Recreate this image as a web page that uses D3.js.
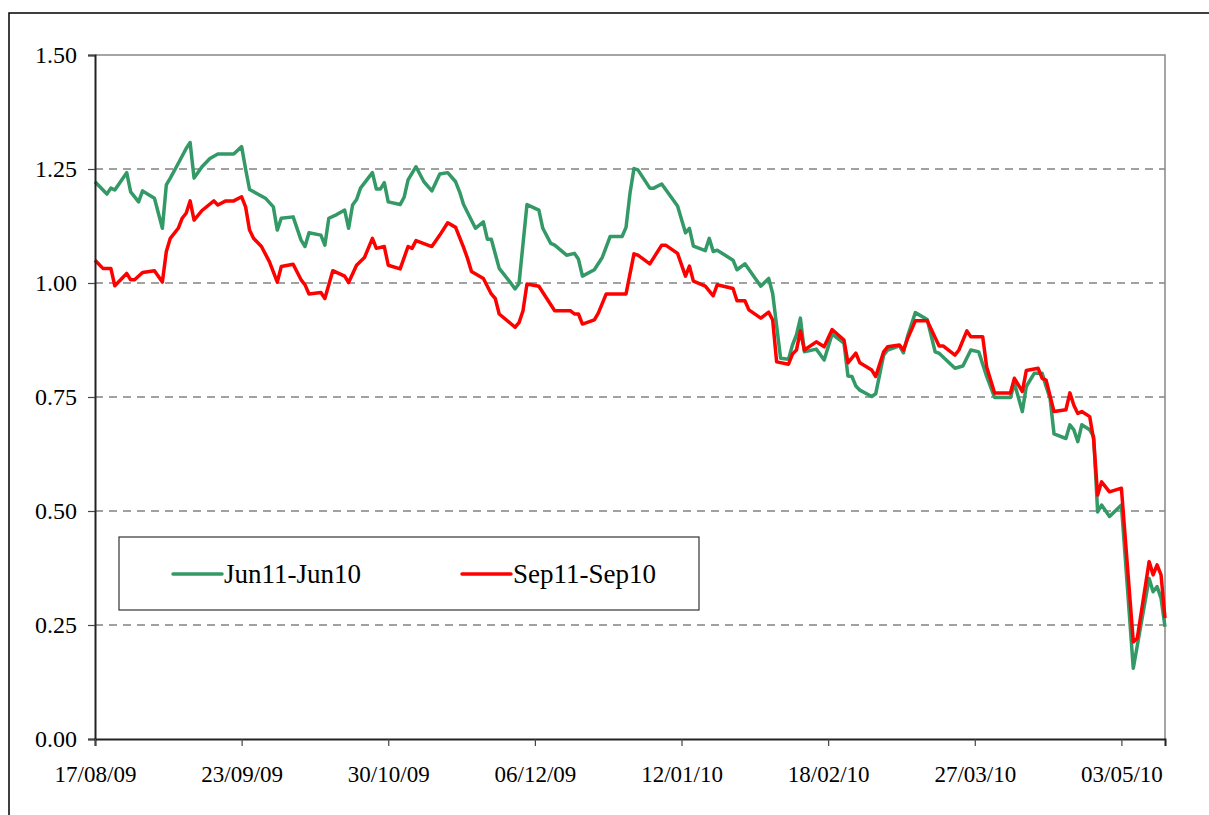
<!DOCTYPE html>
<html lang="en">
<head>
<meta charset="utf-8">
<title>Jun11-Jun10 vs Sep11-Sep10</title>
<style>
  body { margin: 0; padding: 0; background: #fff; }
  #chart svg { display: block; }
</style>
</head>
<body>
<div id="chart"></div>
<script src="https://cdn.jsdelivr.net/npm/d3@7"></script>
<script>

// --- data ---
var tickLabels = ['17/08/09', '23/09/09', '30/10/09', '06/12/09', '12/01/10', '18/02/10', '27/03/10', '03/05/10'];
var yTicks = [0, 0.25, 0.5, 0.75, 1.0, 1.25, 1.5];
var seriesNames = ['Jun11-Jun10', 'Sep11-Sep10'];

var junDates = [
  '2009-08-17','2009-08-20','2009-08-21','2009-08-22','2009-08-25','2009-08-26','2009-08-28','2009-08-29',
  '2009-09-01','2009-09-03','2009-09-04','2009-09-05','2009-09-07','2009-09-09','2009-09-10','2009-09-11',
  '2009-09-13','2009-09-15','2009-09-17','2009-09-21','2009-09-23','2009-09-24','2009-09-25','2009-09-29',
  '2009-10-01','2009-10-02','2009-10-03','2009-10-06','2009-10-08','2009-10-09','2009-10-10','2009-10-13',
  '2009-10-14','2009-10-15','2009-10-17','2009-10-19','2009-10-20','2009-10-21','2009-10-22','2009-10-23',
  '2009-10-26','2009-10-27','2009-10-28','2009-10-29','2009-10-30','2009-11-02','2009-11-03','2009-11-04',
  '2009-11-06','2009-11-08','2009-11-10','2009-11-12','2009-11-14','2009-11-16','2009-11-17','2009-11-18',
  '2009-11-21','2009-11-23','2009-11-24','2009-11-25','2009-11-27','2009-11-30','2009-12-01','2009-12-02',
  '2009-12-04','2009-12-07','2009-12-08','2009-12-10','2009-12-11','2009-12-14','2009-12-16','2009-12-17',
  '2009-12-18','2009-12-21','2009-12-23','2009-12-25','2009-12-28','2009-12-29','2009-12-30','2009-12-31',
  '2010-01-01','2010-01-04','2010-01-05','2010-01-07','2010-01-11','2010-01-13','2010-01-14','2010-01-15',
  '2010-01-18','2010-01-19','2010-01-20','2010-01-21','2010-01-25','2010-01-26','2010-01-28','2010-02-01',
  '2010-02-03','2010-02-04','2010-02-06','2010-02-08','2010-02-09','2010-02-10','2010-02-11','2010-02-12',
  '2010-02-15','2010-02-17','2010-02-19','2010-02-22','2010-02-23','2010-02-24','2010-02-25','2010-02-26',
  '2010-03-01','2010-03-02','2010-03-04','2010-03-05','2010-03-08','2010-03-09','2010-03-10','2010-03-12',
  '2010-03-15','2010-03-17','2010-03-18','2010-03-22','2010-03-24','2010-03-26','2010-03-28','2010-03-30',
  '2010-04-01','2010-04-05','2010-04-06','2010-04-08','2010-04-09','2010-04-11','2010-04-13','2010-04-14',
  '2010-04-15','2010-04-16','2010-04-19','2010-04-20','2010-04-21','2010-04-22','2010-04-23','2010-04-25',
  '2010-04-26','2010-04-27','2010-04-28','2010-04-30','2010-05-03','2010-05-06','2010-05-10','2010-05-11',
  '2010-05-12','2010-05-13','2010-05-14'
];
var junValues = [
  1.222,1.195,1.208,1.204,1.242,1.200,1.178,1.202,
  1.186,1.120,1.215,1.230,1.262,1.295,1.308,1.230,
  1.255,1.273,1.283,1.283,1.299,1.250,1.205,1.186,
  1.167,1.116,1.142,1.145,1.094,1.080,1.110,1.105,
  1.083,1.142,1.150,1.160,1.120,1.171,1.183,1.208,
  1.242,1.206,1.206,1.220,1.178,1.172,1.188,1.226,
  1.255,1.222,1.202,1.239,1.242,1.222,1.200,1.172,
  1.120,1.134,1.096,1.096,1.032,0.999,0.987,0.999,
  1.172,1.160,1.120,1.087,1.083,1.061,1.065,1.052,
  1.015,1.029,1.056,1.102,1.102,1.122,1.197,1.251,
  1.248,1.208,1.208,1.217,1.169,1.110,1.120,1.081,
  1.071,1.098,1.069,1.072,1.050,1.029,1.042,0.993,
  1.010,0.977,0.835,0.833,0.864,0.886,0.923,0.849,
  0.855,0.831,0.888,0.868,0.796,0.795,0.774,0.765,
  0.751,0.757,0.842,0.853,0.862,0.847,0.882,0.935,
  0.920,0.849,0.846,0.813,0.818,0.853,0.849,0.795,
  0.749,0.749,0.780,0.718,0.773,0.802,0.802,0.773,
  0.747,0.669,0.659,0.689,0.678,0.652,0.689,0.678,
  0.663,0.498,0.513,0.488,0.513,0.155,0.352,0.323,
  0.334,0.309,0.246
];

var sepDates = [
  '2009-08-17','2009-08-19','2009-08-21','2009-08-22','2009-08-25','2009-08-26','2009-08-27','2009-08-29',
  '2009-09-01','2009-09-03','2009-09-04','2009-09-05','2009-09-07','2009-09-08','2009-09-09','2009-09-10',
  '2009-09-11','2009-09-13','2009-09-16','2009-09-17','2009-09-19','2009-09-21','2009-09-23','2009-09-24',
  '2009-09-25','2009-09-26','2009-09-28','2009-09-30','2009-10-02','2009-10-03','2009-10-06','2009-10-08',
  '2009-10-09','2009-10-10','2009-10-13','2009-10-14','2009-10-16','2009-10-19','2009-10-20','2009-10-22',
  '2009-10-24','2009-10-26','2009-10-27','2009-10-29','2009-10-30','2009-11-02','2009-11-04','2009-11-05',
  '2009-11-06','2009-11-10','2009-11-12','2009-11-14','2009-11-16','2009-11-18','2009-11-19','2009-11-20',
  '2009-11-23','2009-11-25','2009-11-26','2009-11-27','2009-12-01','2009-12-02','2009-12-03','2009-12-04',
  '2009-12-07','2009-12-11','2009-12-15','2009-12-16','2009-12-17','2009-12-18','2009-12-21','2009-12-22',
  '2009-12-24','2009-12-29','2009-12-31','2010-01-01','2010-01-04','2010-01-07','2010-01-08','2010-01-11',
  '2010-01-13','2010-01-14','2010-01-15','2010-01-18','2010-01-20','2010-01-21','2010-01-25','2010-01-26',
  '2010-01-28','2010-01-29','2010-02-01','2010-02-03','2010-02-04','2010-02-05','2010-02-08','2010-02-09',
  '2010-02-10','2010-02-11','2010-02-12','2010-02-15','2010-02-17','2010-02-19','2010-02-22','2010-02-23',
  '2010-02-25','2010-02-26','2010-03-01','2010-03-02','2010-03-04','2010-03-05','2010-03-08','2010-03-09',
  '2010-03-10','2010-03-12','2010-03-15','2010-03-18','2010-03-19','2010-03-22','2010-03-23','2010-03-25',
  '2010-03-26','2010-03-29','2010-03-30','2010-04-01','2010-04-05','2010-04-06','2010-04-08','2010-04-09',
  '2010-04-12','2010-04-13','2010-04-14','2010-04-16','2010-04-19','2010-04-20','2010-04-21','2010-04-22',
  '2010-04-23','2010-04-25','2010-04-26','2010-04-27','2010-04-28','2010-04-30','2010-05-03','2010-05-06',
  '2010-05-07','2010-05-10','2010-05-11','2010-05-12','2010-05-13','2010-05-14'
];
var sepValues = [
  1.050,1.032,1.032,0.994,1.021,1.007,1.007,1.023,
  1.027,1.002,1.069,1.098,1.120,1.142,1.153,1.180,
  1.138,1.159,1.180,1.171,1.180,1.180,1.189,1.167,
  1.116,1.098,1.080,1.047,1.002,1.036,1.041,1.007,
  0.996,0.976,0.979,0.966,1.027,1.015,1.001,1.039,
  1.056,1.098,1.076,1.080,1.039,1.031,1.080,1.076,
  1.093,1.080,1.105,1.132,1.122,1.078,1.054,1.025,
  1.010,0.976,0.966,0.932,0.903,0.913,0.939,0.998,
  0.993,0.939,0.939,0.932,0.932,0.910,0.919,0.934,
  0.976,0.976,1.064,1.061,1.042,1.083,1.083,1.065,
  1.015,1.037,1.004,0.993,0.972,0.996,0.988,0.961,
  0.961,0.941,0.923,0.936,0.919,0.827,0.822,0.844,
  0.853,0.895,0.853,0.871,0.860,0.898,0.875,0.825,
  0.846,0.825,0.809,0.795,0.849,0.860,0.864,0.853,
  0.877,0.917,0.917,0.862,0.862,0.842,0.853,0.895,
  0.882,0.882,0.816,0.759,0.759,0.791,0.762,0.808,
  0.813,0.791,0.787,0.718,0.722,0.759,0.732,0.714,
  0.718,0.707,0.656,0.535,0.564,0.542,0.550,0.213,
  0.221,0.389,0.360,0.382,0.360,0.265
];

var chart = function() {

  var width = 1209;
  var height = 815;
  var margin = {top: 55, right: 44, bottom: 76, left: 95};

  var parseIso = d3.timeParse('%Y-%m-%d');
  var parseTick = d3.timeParse('%d/%m/%y');
  var font = "'Liberation Serif', 'Times New Roman', serif";

  var svg = d3.select('#chart')
    .append('svg')
    .attr('width', width)
    .attr('height', height);

  // outer chart frame
  svg.append('rect')
    .attr('x', 9).attr('y', 13)
    .attr('width', width + 20).attr('height', height + 20)
    .style('fill', 'none')
    .style('stroke', '#000')
    .style('stroke-width', 1.5);

  var x = d3.scaleTime()
    .domain([parseIso(junDates[0]), parseIso(junDates[junDates.length - 1])])
    .range([margin.left, width - margin.right]);

  var y = d3.scaleLinear()
    .domain([0, 1.5])
    .range([height - margin.bottom, margin.top]);

  // gridlines
  svg.append('g')
    .selectAll('line')
    .data(yTicks.filter(function(d) { return d > 0 && d < 1.5; }))
    .enter().append('line')
    .attr('x1', x.range()[0]).attr('x2', x.range()[1])
    .attr('y1', function(d) { return y(d); })
    .attr('y2', function(d) { return y(d); })
    .style('stroke', '#444')
    .style('stroke-width', 1.2)
    .style('stroke-dasharray', '8,6');

  // plot area border (top and right)
  svg.append('path')
    .attr('d', 'M' + x.range()[0] + ',' + y(1.5) + 'H' + x.range()[1] + 'V' + y(0))
    .style('fill', 'none')
    .style('stroke', '#888')
    .style('stroke-width', 1.5);

  // lines
  var line = d3.line()
    .x(function(d) { return x(d.date); })
    .y(function(d) { return y(d.value); });

  var series = [
    {name: seriesNames[0], color: '#339966',
     values: junDates.map(function(d, i) { return {date: parseIso(d), value: junValues[i]}; })},
    {name: seriesNames[1], color: '#ff0000',
     values: sepDates.map(function(d, i) { return {date: parseIso(d), value: sepValues[i]}; })}
  ];

  svg.append('g')
    .selectAll('path')
    .data(series)
    .enter().append('path')
    .attr('d', function(d) { return line(d.values); })
    .style('fill', 'none')
    .style('stroke', function(d) { return d.color; })
    .style('stroke-width', 3.5)
    .style('stroke-linejoin', 'round');

  // axes
  var yAxis = d3.axisLeft(y)
    .tickValues(yTicks)
    .tickFormat(d3.format('.2f'))
    .tickSize(7)
    .tickPadding(11);

  var xAxis = d3.axisBottom(x)
    .tickValues(tickLabels.map(parseTick))
    .tickFormat(d3.timeFormat('%d/%m/%y'))
    .tickSize(7)
    .tickPadding(20);

  var gy = svg.append('g')
    .attr('transform', 'translate(' + margin.left + ',0)')
    .call(yAxis);

  var gx = svg.append('g')
    .attr('transform', 'translate(0,' + (height - margin.bottom) + ')')
    .call(xAxis);

  [gx, gy].forEach(function(g) {
    g.select('.domain').style('stroke', '#222').style('stroke-width', 2);
    g.selectAll('.tick line').style('stroke', '#444').style('stroke-width', 1.2);
    g.selectAll('.tick text')
      .style('font-family', font)
      .style('fill', '#000');
  });
  gx.selectAll('.tick text').style('font-size', '23px');
  gy.selectAll('.tick text').style('font-size', '24px');

  // legend
  var legend = svg.append('g');
  legend.append('rect')
    .attr('x', 119).attr('y', 537)
    .attr('width', 580).attr('height', 73)
    .style('fill', '#fff')
    .style('stroke', '#333')
    .style('stroke-width', 1.2);

  var items = legend.selectAll('g.item')
    .data(series)
    .enter().append('g')
    .attr('class', 'item')
    .attr('transform', function(d, i) { return 'translate(' + (173 + i * 289) + ',574)'; });

  items.append('line')
    .attr('x1', 0).attr('x2', 49)
    .style('stroke', function(d) { return d.color; })
    .style('stroke-width', 3.5)
    .style('stroke-linecap', 'round');

  items.append('text')
    .attr('x', 51)
    .attr('dy', '0.35em')
    .text(function(d) { return d.name; })
    .style('font-family', font)
    .style('font-size', '27px')
    .style('fill', '#000');

};

window.onload = chart;

</script>
</body>
</html>
